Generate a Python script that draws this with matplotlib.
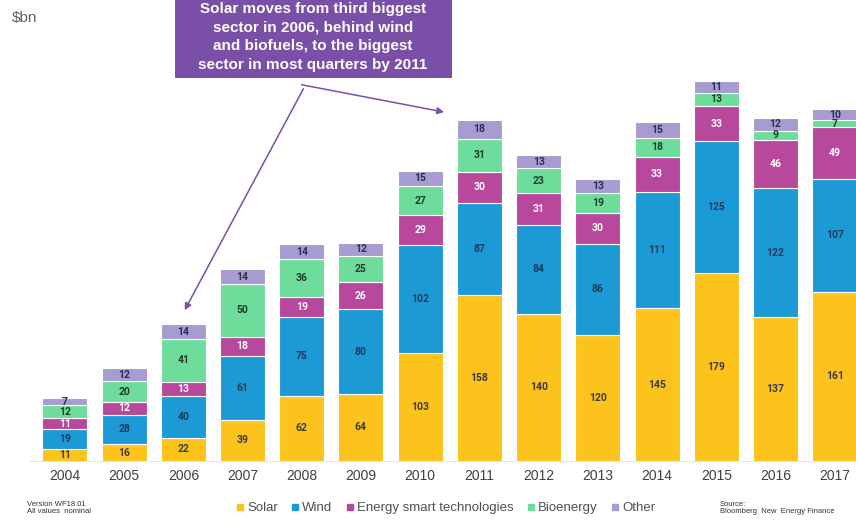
import matplotlib
matplotlib.use('Agg')
import matplotlib.pyplot as plt
import matplotlib.patches as mpatches
from matplotlib.lines import Line2D
import numpy as np

plt.rcParams['font.family'] = ['Liberation Sans', 'DejaVu Sans']

years = ['2004', '2005', '2006', '2007', '2008', '2009', '2010',
         '2011', '2012', '2013', '2014', '2015', '2016', '2017']
solar = [11, 16, 22, 39, 62, 64, 103, 158, 140, 120, 145, 179, 137, 161]
wind = [19, 28, 40, 61, 75, 80, 102, 87, 84, 86, 111, 125, 122, 107]
smart = [11, 12, 13, 18, 19, 26, 29, 30, 31, 30, 33, 33, 46, 49]
bio = [12, 20, 41, 50, 36, 25, 27, 31, 23, 19, 18, 13, 9, 7]
other = [7, 12, 14, 14, 14, 12, 15, 18, 13, 13, 15, 11, 12, 10]

series = [
    ('Solar', solar, '#FBC31B', '#3a3a3a'),
    ('Wind', wind, '#1C9AD6', '#1f3a5a'),
    ('Energy smart technologies', smart, '#B8489C', 'white'),
    ('Bioenergy', bio, '#6EDD9B', '#1e3d2a'),
    ('Other', other, '#A89BD1', '#2a2f4a'),
]

W, H = 856, 525
fig = plt.figure(figsize=(W / 100, H / 100), dpi=100)
ax = fig.add_axes([30 / W, 64 / H, 826 / W, 461 / H])

x = np.arange(len(years))
bottom = np.zeros(len(years))
for name, vals, col, tcol in series:
    ax.bar(x, vals, width=0.76, bottom=bottom, color=col,
           edgecolor='white', linewidth=0.8, label=name)
    for xi, b, v in zip(x, bottom, vals):
        ax.text(xi, b + v / 2, str(v), ha='center', va='center',
                fontsize=7.5, fontweight='bold', color=tcol, family='Roboto')
    bottom += np.array(vals)

ax.set_xlim(-0.59, 13.36)
ax.set_ylim(0, 438)
ax.set_xticks(x)
ax.set_xticklabels(years, fontsize=10, color='#404040')
ax.tick_params(axis='x', length=0, pad=6)
ax.set_yticks([])
for s in ['top', 'right', 'left']:
    ax.spines[s].set_visible(False)
ax.spines['bottom'].set_color('#e6e6e6')

fig.text(12 / W, 1 - 18 / H, '$bn', fontsize=11, color='#606060', va='center')

# callout box with arrows
box = mpatches.Rectangle((175 / W, 1 - 78 / H), 277 / W, 90 / H,
                         transform=fig.transFigure, facecolor='#7A4FA7',
                         edgecolor='none', zorder=5)
fig.patches.append(box)
fig.text(313 / W, 1 - 37 / H,
         'Solar moves from third biggest\nsector in 2006, behind wind\n'
         'and biofuels, to the biggest\nsector in most quarters by 2011',
         ha='center', va='center', color='white', fontsize=11,
         fontweight='bold', linespacing=1.45, zorder=6)

arrow = dict(arrowstyle='-|>', color='#7A4FA7', lw=1.1, mutation_scale=10)
ax.annotate('', xy=(2.0, 141), xytext=(4.05, 356), arrowprops=arrow)
ax.annotate('', xy=(6.45, 331), xytext=(3.95, 358), arrowprops=arrow)

# footer
fig.text(27 / W, 1 - 508 / H, 'Version WF18.01\nAll values  nominal',
         fontsize=5.5, color='#333333', va='center', linespacing=1.1)
fig.text(720 / W, 1 - 508 / H, 'Source:\nBloomberg  New  Energy Finance',
         fontsize=5.5, color='#333333', va='center', linespacing=1.1)

handles = [Line2D([0], [0], marker='s', linestyle='none', markersize=4.5,
                  markerfacecolor=c, markeredgecolor=c, label=n)
           for n, _, c, _ in series]
fig.legend(handles=handles, loc='center', bbox_to_anchor=(445 / W, 1 - 508 / H),
           ncol=5, frameon=False, fontsize=9.5, handletextpad=0.15,
           handlelength=0.8, columnspacing=0.9, labelcolor='#505050')

fig.savefig('out.png', dpi=100)
